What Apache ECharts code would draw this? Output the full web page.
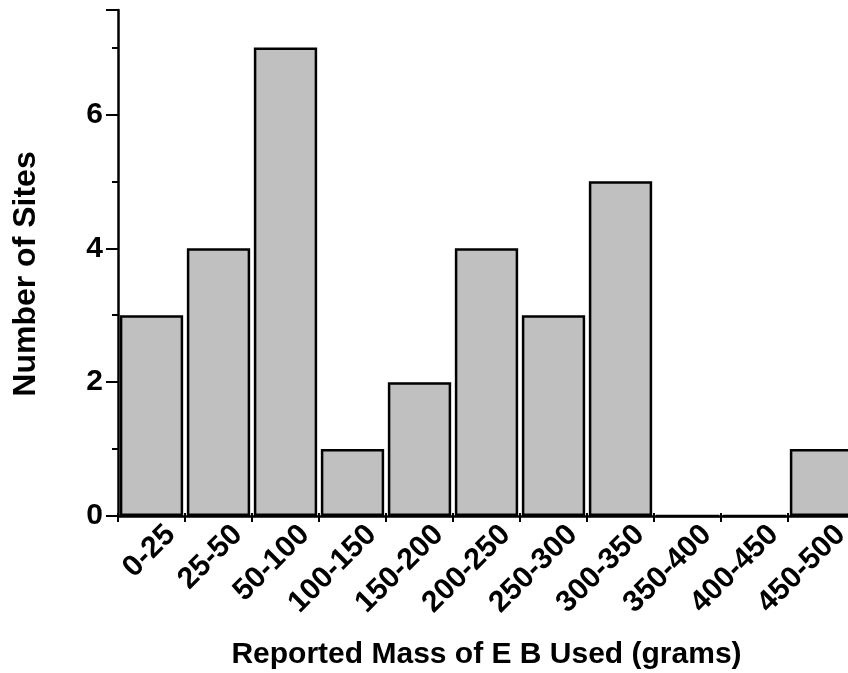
<!DOCTYPE html>
<html>
<head>
<meta charset="utf-8">
<script src="https://cdn.jsdelivr.net/npm/echarts@6/dist/echarts.min.js"></script>
<style>html,body{margin:0;padding:0;background:#fff}#c{width:848px;height:673px}</style>
</head>
<body>
<div id="c"></div>
<script>
const categories = ['0-25','25-50','50-100','100-150','150-200','200-250','250-300','300-350','350-400','400-450','450-500'];
const siteCounts = [3,4,7,1,2,4,3,5,0,0,1];
const yTicks = [0,2,4,6];

const chart = echarts.init(document.getElementById('c'), null, {renderer:'canvas'});
const font = '"Liberation Sans", Arial, sans-serif';
chart.setOption({
  animation:false,
  backgroundColor:'#fff',
  grid:{left:118, top:10, bottom:157, width:737, containLabel:false, outerBoundsMode:'none'},
  xAxis:[{
    type:'category', data:categories, position:'bottom',
    boundaryGap:true,
    axisLine:{lineStyle:{color:'#000', width:2.5}},
    axisTick:{show:true, alignWithLabel:false, length:6, lineStyle:{color:'#000', width:2}},
    axisLabel:{rotate:45, color:'#000', fontFamily:font, fontWeight:'bold', fontSize:30, margin:-5,
      align:'right', verticalAlign:'top', lineHeight:54, interval:0, hideOverlap:false},
    name:'Reported Mass of E B Used (grams)', nameLocation:'middle', nameGap:124,
    nameTextStyle:{color:'#000', fontFamily:font, fontWeight:'bold', fontSize:30}
  },{
    type:'category', data:categories, position:'bottom', offset:0,
    axisLine:{show:false},
    axisTick:{show:true, inside:true, alignWithLabel:false, length:3, lineStyle:{color:'#000', width:2}},
    axisLabel:{show:false}
  }],
  yAxis:{
    type:'value', min:0, max:7.56, interval:2,
    axisLine:{show:true, lineStyle:{color:'#000', width:2.5}},
    axisTick:{show:true, length:12, lineStyle:{color:'#000', width:2}},
    minorTick:{show:true, splitNumber:2, length:6, lineStyle:{color:'#000', width:2}},
    splitLine:{show:false},
    axisLabel:{color:'#000', fontFamily:font, fontWeight:'bold', fontSize:30, margin:15,
      padding:[0,0,8,0],
      formatter:v => yTicks.includes(v) ? String(v) : ''},
    name:'Number of Sites', nameLocation:'middle', nameGap:76,
    nameTextStyle:{color:'#000', fontFamily:font, fontWeight:'bold', fontSize:32, padding:[0,22,0,0]}
  },
  series:[{
    type:'bar', data:siteCounts, barCategoryGap:'5.5%', xAxisIndex:0,
    itemStyle:{color:'#c0c0c0', borderColor:'#000', borderWidth:2.5}
  }]
});
</script>
</body>
</html>
